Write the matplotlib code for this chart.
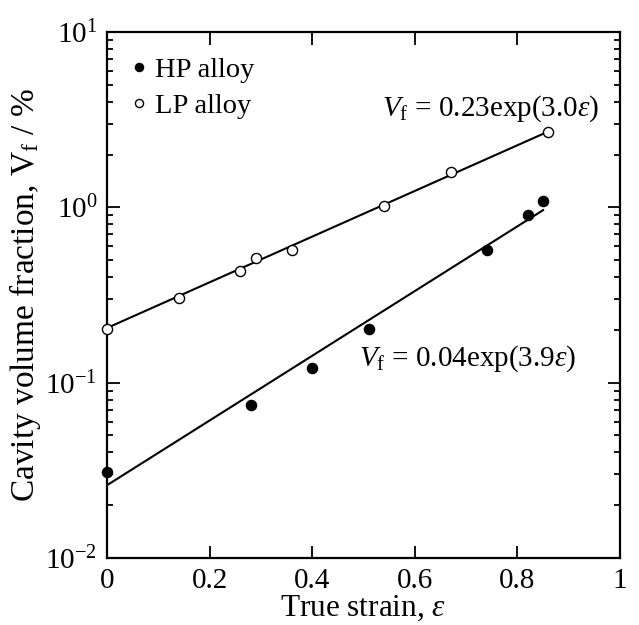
import matplotlib
matplotlib.use("Agg")
import matplotlib.pyplot as plt
import numpy as np
from matplotlib.ticker import FixedLocator, FixedFormatter, LogLocator, NullFormatter, NullLocator

plt.rcParams['font.family'] = ['Liberation Serif', 'DejaVu Serif']
plt.rcParams['mathtext.fontset'] = 'custom'
plt.rcParams['mathtext.rm'] = 'Liberation Serif'
plt.rcParams['mathtext.it'] = 'Liberation Serif:italic'
plt.rcParams['mathtext.bf'] = 'Liberation Serif:bold'

# Data
hp_strain = [0.0, 0.28, 0.40, 0.51, 0.74, 0.82, 0.85]
hp_vf = [0.031, 0.075, 0.122, 0.202, 0.574, 0.905, 1.09]
lp_strain = [0.0, 0.14, 0.26, 0.29, 0.36, 0.54, 0.67, 0.86]
lp_vf = [0.202, 0.303, 0.435, 0.513, 0.574, 1.02, 1.60, 2.69]

# Fitted lines as drawn: Vf = a*exp(b*strain)
hp_fit_a, hp_fit_b, hp_fit_range = 0.026, 4.25, (0.0, 0.85)
lp_fit_a, lp_fit_b, lp_fit_range = 0.205, 3.0, (0.0, 0.86)

xticks = [0, 0.2, 0.4, 0.6, 0.8, 1]
xticklabels = ['0', '0.2', '0.4', '0.6', '0.8', '1']
yticks = [1e-2, 1e-1, 1e0, 1e1]
yticklabels = [r'$10^{-2}$', r'$10^{-1}$', r'$10^{0}$', r'$10^{1}$']

fig = plt.figure(figsize=(6.39, 6.25), dpi=100)
ax = fig.add_axes([0.1674, 0.1072, 0.8029, 0.8416])
ax.set_yscale('log')
ax.set_xlim(0, 1)
ax.set_ylim(1e-2, 1e1)

xs = np.linspace(*hp_fit_range, 50)
ax.plot(xs, hp_fit_a * np.exp(hp_fit_b * xs), color='black', lw=1.5, zorder=2)
xs = np.linspace(*lp_fit_range, 50)
ax.plot(xs, lp_fit_a * np.exp(lp_fit_b * xs), color='black', lw=1.5, zorder=2)

ax.plot(hp_strain, hp_vf, 'o', ms=7.3, mfc='black', mec='black', mew=1.0,
        clip_on=False, zorder=5, label='HP alloy')
ax.plot(lp_strain, lp_vf, 'o', ms=7.3, mfc='white', mec='black', mew=1.0,
        clip_on=False, zorder=5, label='LP alloy')

leg = ax.legend(loc='upper left', bbox_to_anchor=(0.049, 0.952), frameon=False,
                fontsize=20.5, handlelength=0.5, handletextpad=0.31,
                borderaxespad=0.0, borderpad=0.0, labelspacing=0.33,
                markerscale=0.8)

ax.text(0.960, 0.841, r'$V_{\rm f}$ = 0.23exp(3.0$\varepsilon$)', transform=ax.transAxes,
        fontsize=21, ha='right', va='baseline')
ax.text(0.492, 0.365, r'$V_{\rm f}$ = 0.04exp(3.9$\varepsilon$)', transform=ax.transAxes,
        fontsize=21, ha='left', va='baseline')

ax.xaxis.set_major_locator(FixedLocator(xticks))
ax.xaxis.set_major_formatter(FixedFormatter(xticklabels))
ax.xaxis.set_minor_locator(NullLocator())
ax.yaxis.set_major_locator(FixedLocator(yticks))
ax.yaxis.set_major_formatter(FixedFormatter(yticklabels))
ax.yaxis.set_minor_locator(LogLocator(base=10, subs=np.arange(2, 10), numticks=20))
ax.yaxis.set_minor_formatter(NullFormatter())

ax.tick_params(which='both', direction='in', top=True, right=True, labelsize=21, width=1.3)
ax.tick_params(which='major', length=9, pad=7)
ax.tick_params(which='minor', length=4)
for s in ax.spines.values():
    s.set_linewidth(1.6)

ax.set_xlabel(r'True strain, $\varepsilon$', fontsize=22.5, labelpad=0)
ax.set_ylabel(r'Cavity volume fraction, V$_{\rm f}$ / %', fontsize=24, labelpad=2)

fig.savefig('out.png', dpi=100)
